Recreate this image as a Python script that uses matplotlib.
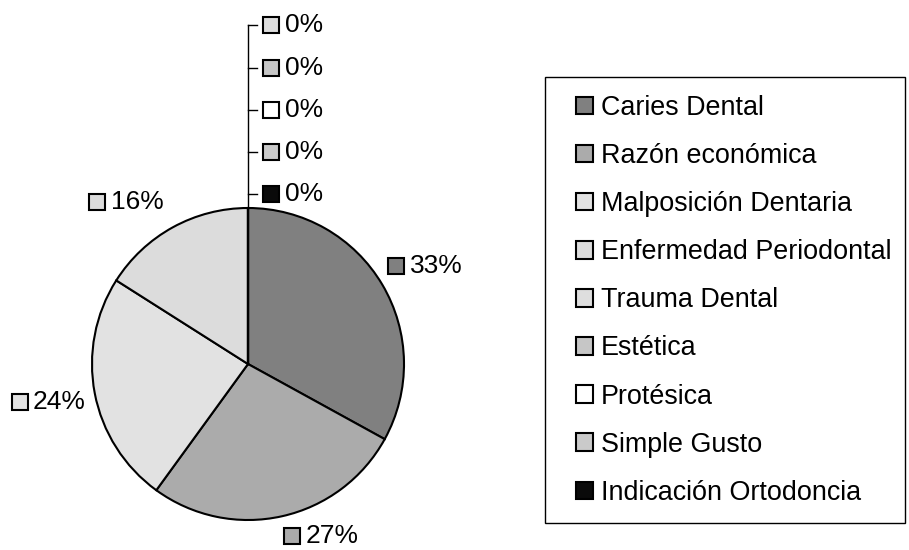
import numpy as np
import matplotlib.pyplot as plt
from matplotlib.offsetbox import AnnotationBbox, DrawingArea, TextArea, HPacker
from matplotlib.patches import Rectangle

plt.rcParams['font.family'] = ['Liberation Sans', 'DejaVu Sans']

categorias = ['Caries Dental', 'Razón económica', 'Malposición Dentaria',
              'Enfermedad Periodontal', 'Trauma Dental', 'Estética',
              'Protésica', 'Simple Gusto', 'Indicación Ortodoncia']
valores = [33, 27, 24, 16, 0, 0, 0, 0, 0]
colores = ['#808080', '#ababab', '#e2e2e2', '#dcdcdc', '#dedede',
           '#c6c6c6', '#ffffff', '#cacaca', '#0a0a0a']

FS = 19
W, H = 909, 550
R = 156.0           # radio del pie en px
cx, cy = 248, 364   # centro en px (desde arriba)

fig = plt.figure(figsize=(W / 100, H / 100), dpi=100)
ax = fig.add_axes([0, 0, 1, 1])
wedges, _ = ax.pie(valores, colors=colores, startangle=90, counterclock=False,
                   wedgeprops=dict(edgecolor='black', linewidth=1.5))
ax.set_xlim(-cx / R, (W - cx) / R)
ax.set_ylim(-(H - cy) / R, cy / R)
ax.axis('off')


def etiqueta(texto, color, xy, align):
    s = 11.5
    da = DrawingArea(s, s, 0, 0)
    da.add_artist(Rectangle((0, 0), s, s, fc=color, ec='black', lw=1.5))
    ta = TextArea(texto, textprops=dict(fontsize=FS, color='black'))
    box = HPacker(children=[da, ta], align='center', pad=0, sep=4)
    ab = AnnotationBbox(box, xy, frameon=False, box_alignment=align, xycoords='data')
    ax.add_artist(ab)


total = float(sum(valores))
r_lab = [1.3, 1.2, 1.3, 1.3, 0, 0, 0, 0, 0]
ajuste = [-1.6, 10.5, 0, 8, 0, 0, 0, 0, 0]   # grados
ceros = [i for i, v in enumerate(valores) if v == 0]
acum = 0
for i, v in enumerate(valores):
    pct = '%d%%' % round(100 * v / total)
    if v > 0:
        mid = np.radians(90 - 360 * (acum + v / 2) / total + ajuste[i])
        xy = (r_lab[i] * np.cos(mid), r_lab[i] * np.sin(mid))
        etiqueta(pct, colores[i], xy, (0.5, 0.5))
    acum += v

# etiquetas de 0% apiladas sobre el pie
n = len(ceros)
ys = []
for k, i in enumerate(ceros):
    y = 1.09 + 0.27 * (n - 1 - k)
    ys.append(y)
    ax.plot([0, 0.058], [y, y], color='black', lw=1)
    etiqueta('0%', colores[i], (0.096, y), (0, 0.5))
ax.plot([0, 0], [1, max(ys)], color='black', lw=1)

fig.legend(wedges, categorias, loc='upper left',
           bbox_to_anchor=(576 / W, 1 - 95 / H), frameon=False, fontsize=19.4,
           handlelength=0.62, handleheight=0.62, handletextpad=0.3,
           labelspacing=0.82, borderpad=0, borderaxespad=0)
fig.add_artist(Rectangle((545 / W, 1 - 523 / H), 360 / W, 446 / H,
                         transform=fig.transFigure, fill=False, ec='black', lw=1))

fig.savefig('out.png', dpi=100)
